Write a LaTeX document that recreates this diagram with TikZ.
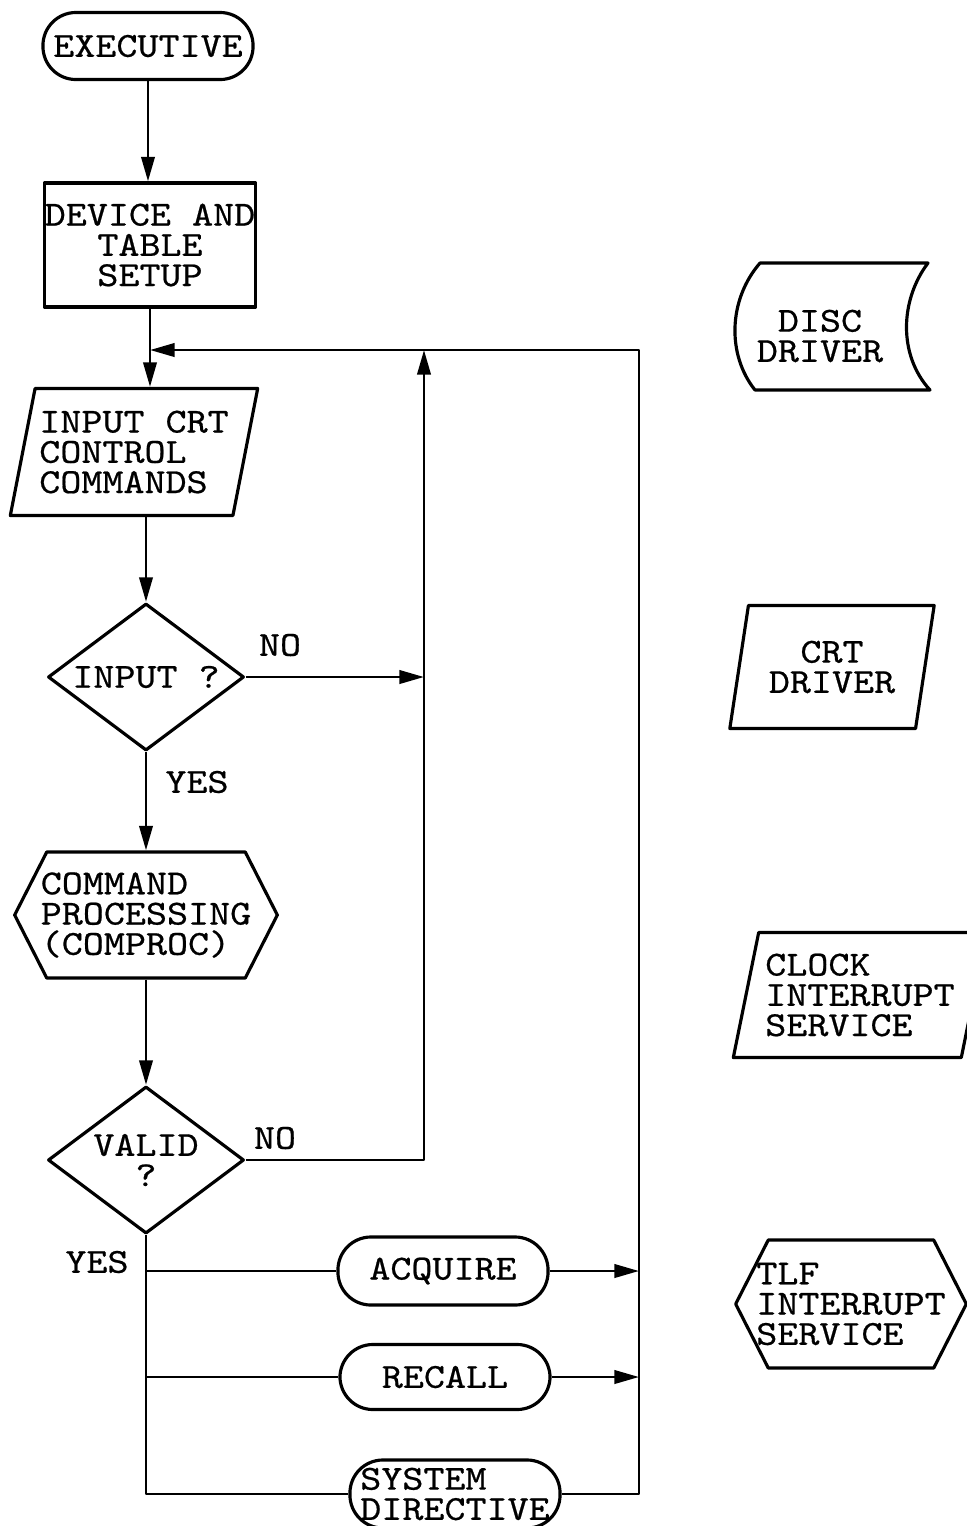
\documentclass[tikz,border=0pt]{standalone}
\usepackage{fontspec}
\setmonofont{Latin Modern Mono}[FakeStretch=1.14, FakeBold=0.6]
\usetikzlibrary{arrows.meta,shapes.geometric,shapes.symbols}

\tikzset{
	base/.style={draw, line width=0.9pt, inner sep=0pt,
		font=\ttfamily\fontsize{10pt}{8.6pt}\selectfont},
	term/.style={base, rectangle, rounded corners=3.3mm,
		minimum width=2.1cm, minimum height=0.67cm},
	box/.style={base, rectangle, align=center,
		minimum width=2.11cm, minimum height=1.24cm},
	io/.style={base, trapezium, trapezium left angle=74,
		trapezium right angle=106, trapezium stretches=true, align=left},
	test/.style={base, diamond, aspect=1.33, align=center,
		minimum width=1.96cm, minimum height=1.47cm},
	prep/.style={base, signal, signal to=east and west,
		signal pointer angle=126, align=left},
	wire/.style={line width=0.8pt},
	flow/.style={wire, -{Triangle[length=7pt,width=3.8pt]}},
	lbl/.style={font=\ttfamily\fontsize{10pt}{8.6pt}\selectfont}
}

\begin{document}
\begin{tikzpicture}[x=0.01cm, y=-0.01cm, line join=round]
	
	\useasboundingbox (0,0) rectangle (967,1526);
	\clip (0,0) rectangle (967,1526);
	
	% Cot chinh
	\node[term] (exec) at (148,46) {EXECUTIVE};
	\node[box] (setup) at (150,245) {DEVICE AND\\TABLE\\SETUP};
	\node[io, minimum width=2.48cm, minimum height=1.27cm] (input) at (134,452) {INPUT CRT\\CONTROL\\COMMANDS};
	\node[test] (qin) at (146,677) {INPUT ?};
	\node[prep, inner xsep=-0.6mm, minimum height=1.26cm] (cmd) at (146,915) {COMMAND\\PROCESSING\\(COMPROC)};
	\node[test] (qok) at (146,1160) {VALID\\?};
	
	% Cac nhanh
	\node[term, minimum height=0.68cm] (acq) at (443,1271) {ACQUIRE};
	\node[term, minimum height=0.65cm] (rec) at (445,1377) {RECALL};
	\node[term, minimum height=0.68cm, align=left] (sysdir) at (455,1494) {SYSTEM\\DIRECTIVE};
	
	% Chuong trinh phuc vu
	\node[lbl, align=center] (disc) at (820,336) {DISC\\DRIVER};
	\node[io, align=center, trapezium left angle=75, trapezium right angle=105,
		minimum width=2.05cm, minimum height=1.23cm] (crt) at (832,667) {CRT\\DRIVER};
	\node[io, minimum width=2.54cm, minimum height=1.25cm] (clock) at (860,995) {CLOCK\\INTERRUPT\\SERVICE};
	\node[prep, inner xsep=-1.2mm, minimum height=1.28cm] (tlf) at (851,1304) {TLF\\INTERRUPT\\SERVICE};
	
	% Vien DISC DRIVER
	\draw[line width=0.9pt] (760,263) -- (928,263)
		.. controls (900,300) and (898,355) .. (930,390) -- (755,390)
		.. controls (727,355) and (728,300) .. (760,263) -- cycle;
	
	% Diem noi
	\coordinate (join) at (150,350);
	\coordinate (ltop) at (424,350);
	\coordinate (rtop) at (639,350);
	
	% Mui ten chinh
	\draw[flow] (exec.south) -- (exec.south |- setup.north);
	\draw[flow] (setup.south) -- (setup.south |- input.north);
	\draw[flow] (qin.north |- input.south) -- (qin.north);
	\draw[flow] (qin.south) -- (cmd.north);
	\draw[flow] (cmd.south) -- (qok.north);
	
	% Vong lap
	\draw[flow] (qin.east) -- (qin.east -| ltop);
	\draw[flow] (qok.east) -- (qok.east -| ltop) -- (ltop);
	\draw[flow] (sysdir.east) -- (sysdir.east -| rtop) -- (rtop) -- (join);
	
	% Nhanh YES
	\draw[wire] (qok.south) -- (qok.south |- sysdir.west) -- (sysdir.west);
	\draw[wire] (qok.south |- acq.west) -- (acq.west);
	\draw[wire] (qok.south |- rec.west) -- (rec.west);
	\draw[flow] (acq.east) -- (acq.east -| rtop);
	\draw[flow] (rec.east) -- (rec.east -| rtop);
	
	% Nhan
	\node[lbl] (no1) at (280,645) {NO};
	\node[lbl] (yes1) at (197,782) {YES};
	\node[lbl] (no2) at (275,1138) {NO};
	\node[lbl] (yes2) at (97,1262) {YES};
	
\end{tikzpicture}
\end{document}
